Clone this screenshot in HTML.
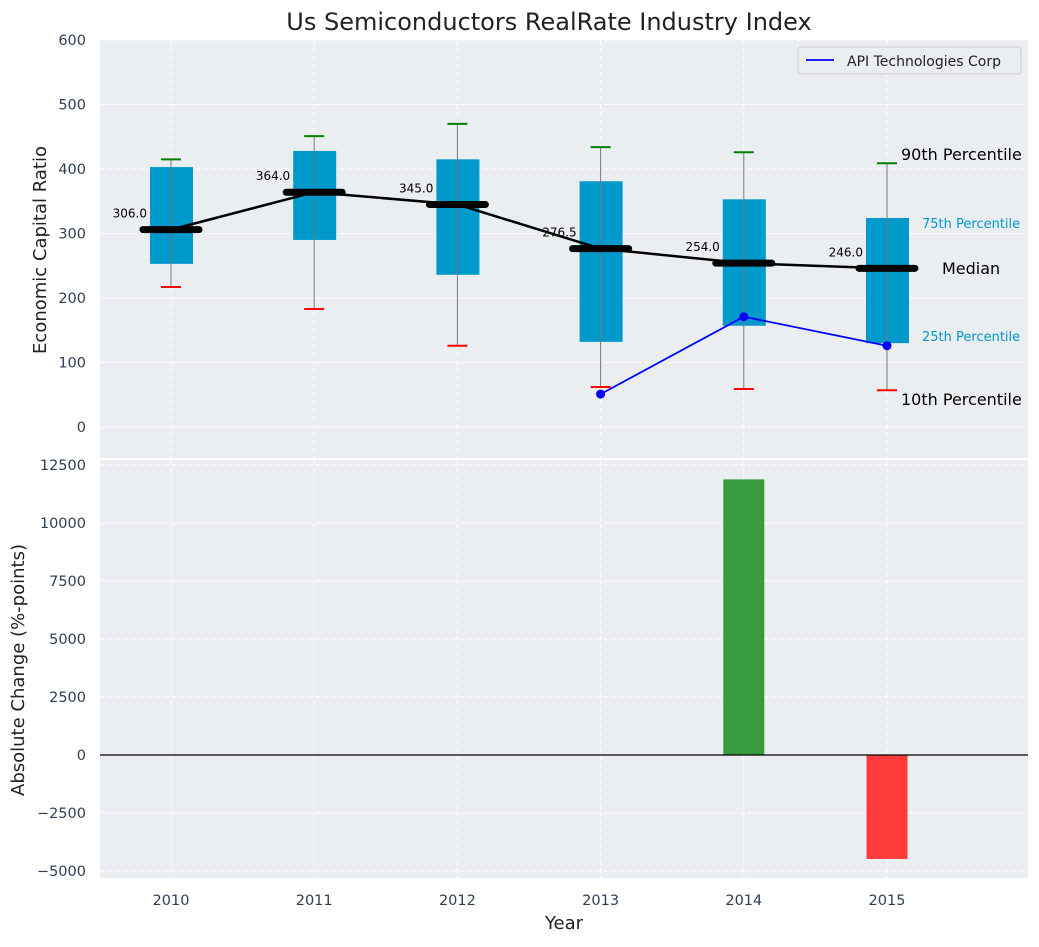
<!DOCTYPE html>
<html><head><meta charset="utf-8"><style>
body{margin:0;background:#fff;font-family:"Liberation Sans","DejaVu Sans",sans-serif}
svg text{font-family:"DejaVu Sans","Liberation Sans",sans-serif}
</style></head><body>
<svg id="c" width="1039" height="942" xmlns="http://www.w3.org/2000/svg"></svg>
<script>
const years=[2010,2011,2012,2013,2014,2015];
const p10=[217,183,126,62,59,57];
const q1=[253,290,236,132,157,130];
const med=[306,364,345,276.5,254,246];
const q3=[403,428,415,381,353,324];
const p90=[415,451,470,434,426,409];
const apiYears=[2013,2014,2015];
const apiVals=[51,171,126];
const barYears=[2014,2015];
const barVals=[11880,-4480];
const topTicks=[0,100,200,300,400,500,600];
const botTicks=[-5000,-2500,0,2500,5000,7500,10000,12500];

const svg=document.getElementById('c');
const NS='http://www.w3.org/2000/svg';
function el(t,a,p){const e=document.createElementNS(NS,t);for(const k in a)e.setAttribute(k,a[k]);(p||svg).appendChild(e);return e;}
const X=y=>171+(y-2010)*143.2;
const Y1=v=>427-v*0.645;
const Y2=v=>755-v*0.0232;
const L=100,R=1028;

let b1=el('rect',{x:L,y:40,width:R-L,height:418,fill:'#eaeef0'});

let b2=el('rect',{x:L,y:460,width:R-L,height:418,fill:'#eaeef0'});


topTicks.forEach(t=>{el('line',{x1:L,x2:R,y1:Y1(t),y2:Y1(t),stroke:'#fff','stroke-dasharray':'5,3'});
 let tx=el('text',{x:86,y:Y1(t)+5,'text-anchor':'end','font-size':14.5,fill:'#2e3f55'});tx.textContent=t;
 });
botTicks.forEach(t=>{el('line',{x1:L,x2:R,y1:Y2(t),y2:Y2(t),stroke:'#fff','stroke-dasharray':'5,3'});
 let tx=el('text',{x:86,y:Y2(t)+5,'text-anchor':'end','font-size':14.5,fill:'#2e3f55'});tx.textContent=t<0?'\u2212'+(-t):t;
 });
years.forEach(y=>{el('line',{x1:X(y),x2:X(y),y1:40,y2:458,stroke:'#fff','stroke-dasharray':'5,3'});
 el('line',{x1:X(y),x2:X(y),y1:460,y2:878,stroke:'#fff','stroke-dasharray':'5,3'});
 let tx=el('text',{x:X(y),y:905,'text-anchor':'middle','font-size':14.5,fill:'#2e3f55'});tx.textContent=y;
 });

years.forEach((y,i)=>{const x=X(y);
 let r=el('rect',{x:x-21,y:Y1(q3[i]),width:43,height:Y1(q1[i])-Y1(q3[i]),fill:'#0099cc'});
 
 el('line',{x1:x,x2:x,y1:Y1(p10[i]),y2:Y1(p90[i]),stroke:'#777','stroke-width':1});
 el('line',{x1:x-10,x2:x+10,y1:Y1(p90[i]),y2:Y1(p90[i]),stroke:'green','stroke-width':2});
 el('line',{x1:x-10,x2:x+10,y1:Y1(p10[i]),y2:Y1(p10[i]),stroke:'red','stroke-width':2});
});
let pts=years.map((y,i)=>X(y)+','+Y1(med[i])).join(' ');
let ml=el('polyline',{points:pts,fill:'none',stroke:'#000','stroke-width':2.5});

years.forEach((y,i)=>{const x=X(y);
 let m=el('line',{x1:x-28,x2:x+28,y1:Y1(med[i]),y2:Y1(med[i]),stroke:'#000','stroke-width':7,'stroke-linecap':'round'});
 
 let t=el('text',{x:x-24,y:Y1(med[i])-12,'text-anchor':'end','font-size':12,fill:'#000'});t.textContent=med[i].toFixed(1);
 
});
let ap=el('polyline',{points:apiYears.map((y,i)=>X(y)+','+Y1(apiVals[i])).join(' '),fill:'none',stroke:'blue','stroke-width':1.8});

apiYears.forEach((y,i)=>{let c=el('circle',{cx:X(y),cy:Y1(apiVals[i]),r:4.5,fill:'blue'});
 });

const lab=[['90th Percentile',901,160,16,'#000'],['75th Percentile',922,228,13,'#0099cc'],['Median',942,274,16,'#000'],['25th Percentile',922,341,13,'#0099cc'],['10th Percentile',901,405,16,'#000']];
lab.forEach(l=>{let t=el('text',{x:l[1],y:l[2],'font-size':l[3],fill:l[4]});t.textContent=l[0];
 });

let lg=el('g',{});
el('rect',{x:798,y:47,width:223,height:27,rx:3,fill:'#eaeef0',stroke:'#ccc'},lg);
el('line',{x1:806,x2:834,y1:60,y2:60,stroke:'blue','stroke-width':1.8},lg);
let lt=el('text',{x:847,y:66,'font-size':14,fill:'#222'},lg);lt.textContent='API Technologies Corp';

barYears.forEach((y,i)=>{const v=barVals[i];
 let r=el('rect',{x:X(y)-20.5,y:Math.min(Y2(v),Y2(0)),width:41,height:Math.abs(Y2(v)-Y2(0)),fill:v>=0?'#3a9b3e':'#ff3b3b'});
 });
el('line',{x1:L,x2:R,y1:Y2(0),y2:Y2(0),stroke:'#000','stroke-width':1.2});

let tt=el('text',{x:549,y:30,'text-anchor':'middle','font-size':24,fill:'#222'});tt.textContent='Us Semiconductors RealRate Industry Index';

let ya=el('text',{x:0,y:0,'text-anchor':'middle','font-size':18,fill:'#222',transform:'translate(46,250) rotate(-90)'});ya.textContent='Economic Capital Ratio';

let yb=el('text',{x:0,y:0,'text-anchor':'middle','font-size':18,fill:'#222',transform:'translate(24,670) rotate(-90)'});yb.textContent='Absolute Change (%-points)';

let xa=el('text',{x:564,y:929,'text-anchor':'middle','font-size':18,fill:'#222'});xa.textContent='Year';

</script>
</body></html>
